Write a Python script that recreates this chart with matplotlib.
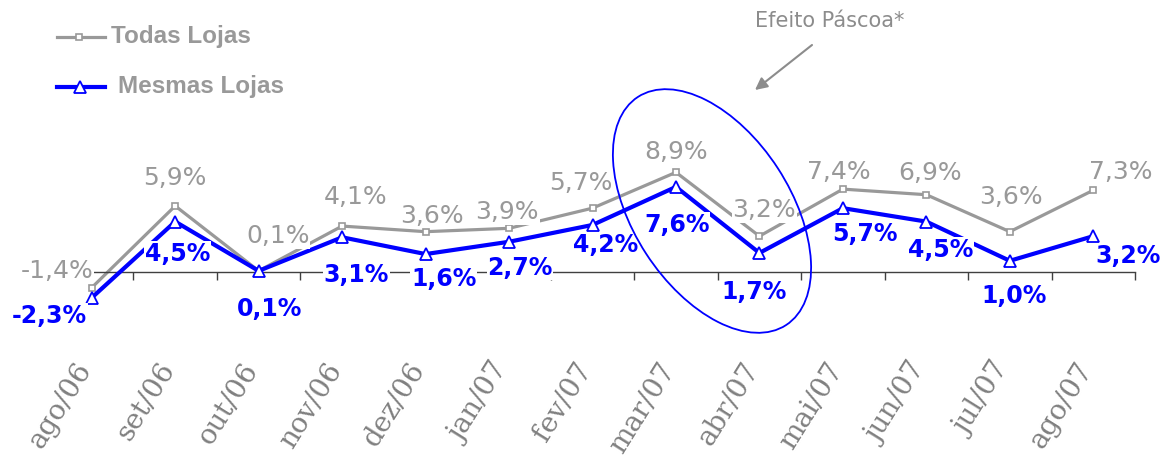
import matplotlib
matplotlib.use('Agg')
import matplotlib.pyplot as plt
import matplotlib.transforms as mtransforms
from matplotlib.patches import Ellipse
from matplotlib.lines import Line2D

# dados
meses = ['ago/06', 'set/06', 'out/06', 'nov/06', 'dez/06', 'jan/07', 'fev/07',
         'mar/07', 'abr/07', 'mai/07', 'jun/07', 'jul/07', 'ago/07']
todas_lojas = [-1.4, 5.9, 0.1, 4.1, 3.6, 3.9, 5.7, 8.9, 3.2, 7.4, 6.9, 3.6, 7.3]
mesmas_lojas = [-2.3, 4.5, 0.1, 3.1, 1.6, 2.7, 4.2, 7.6, 1.7, 5.7, 4.5, 1.0, 3.2]

# posicao dos rotulos (pixels em relacao ao ponto)
off_todas = [(-35, 17), (0, 28), (19, 35), (13, 29), (6, 16), (-2, 16), (-12, 25),
             (0, 20), (5, 26), (-4, 17), (4, 22), (1, 35), (27, 18)]
off_mesmas = [(-42, -18), (2, -32), (11, -38), (14, -38), (18, -25), (11, -26), (13, -20),
              (1, -38), (-5, -39), (22, -26), (14, -28), (4, -35), (35, -20)]

CINZA = '#999999'
AZUL = '#0000ff'
W, H, DPI = 1170, 459, 100

fig = plt.figure(figsize=(W / DPI, H / DPI), dpi=DPI)
ax = fig.add_axes([50 / W, 0, 1085 / W, 1])
ax.set_xlim(-0.5, 12.5)
ax.set_ylim((272 - H) / 11.2, 272 / 11.2)

x = list(range(len(meses)))
ax.plot(x, todas_lojas, color=CINZA, lw=2.3, marker='s', markersize=4.5,
        markerfacecolor='white', markeredgecolor=CINZA, markeredgewidth=1.2, zorder=2)
ax.plot(x, mesmas_lojas, color=AZUL, lw=3.0, marker='^', markersize=9,
        markerfacecolor='white', markeredgecolor=AZUL, markeredgewidth=1.3, zorder=3)

def fmt(v):
    return ('%.1f%%' % v).replace('.', ',')

caixa = dict(facecolor='white', edgecolor='none', pad=0.5)
for i, v in enumerate(todas_lojas):
    ax.annotate(fmt(v), (i, v), xytext=off_todas[i], textcoords='offset pixels',
                ha='center', va='center', fontsize=18, color=CINZA,
                family='DejaVu Sans', bbox=caixa, zorder=4)
for i, v in enumerate(mesmas_lojas):
    ax.annotate(fmt(v), (i, v), xytext=off_mesmas[i], textcoords='offset pixels',
                ha='center', va='center', fontsize=17, color=AZUL, fontweight='bold',
                family='DejaVu Sans', bbox=caixa, zorder=4)

# eixo
for s in ['left', 'right', 'top']:
    ax.spines[s].set_visible(False)
ax.spines['bottom'].set_position(('data', 0))
ax.spines['bottom'].set_color('#404040')
ax.spines['bottom'].set_linewidth(1.0)
ax.set_yticks([])
ax.set_xticks(x)
ax.set_xticks([i - 0.5 for i in range(len(meses) + 1)], minor=True)
ax.tick_params(axis='x', which='major', length=0, pad=67)
ax.tick_params(axis='x', which='minor', length=6, width=1, color='#404040', direction='out')
ax.set_xticklabels(meses, rotation=58, ha='right', va='center', rotation_mode='anchor',
                   fontsize=20, color='#808080', family='DejaVu Serif')
desloc = mtransforms.ScaledTranslation(-6 / DPI, 0, fig.dpi_scale_trans)
for lab in ax.get_xticklabels():
    lab.set_transform(lab.get_transform() + desloc)
ax.set_facecolor('none')

# coordenadas em pixels da imagem (y para baixo)
pix = mtransforms.Affine2D().scale(1, -1).translate(0, H).scale(1 / DPI) + fig.dpi_scale_trans

# legenda
fig.add_artist(Line2D([57, 105], [37, 37], color=CINZA, lw=2.3, transform=pix))
fig.add_artist(Line2D([79], [37], color=CINZA, marker='s', markersize=4.5,
                      markerfacecolor='white', markeredgewidth=1.2, transform=pix))
fig.add_artist(Line2D([57, 105], [87, 87], color=AZUL, lw=3.0, transform=pix))
fig.add_artist(Line2D([80], [87], color=AZUL, marker='^', markersize=9,
                      markerfacecolor='white', markeredgewidth=1.3, transform=pix))
fig.text(111, 37, 'Todas Lojas', transform=pix, ha='left', va='center', fontsize=17.5,
         color=CINZA, fontweight='bold', family='Liberation Sans')
fig.text(118, 87, 'Mesmas Lojas', transform=pix, ha='left', va='center', fontsize=17.5,
         color=CINZA, fontweight='bold', family='Liberation Sans')

# destaque pascoa
fig.text(830, 21, 'Efeito Páscoa*', transform=pix, ha='center', va='center',
         fontsize=15, color='#8c8c8c', family='DejaVu Sans')
fig.add_artist(plt.Annotation('', xy=(755, 90), xytext=(812, 45), xycoords=pix,
                              textcoords=pix,
                              arrowprops=dict(arrowstyle='-|>', color='#8c8c8c', lw=1.5,
                                              mutation_scale=18, shrinkA=0, shrinkB=0)))
fig.add_artist(Ellipse((712, 211), 157, 272, angle=-33, transform=pix,
                       fill=False, edgecolor=AZUL, lw=1.3, zorder=5))

fig.savefig('out.png', dpi=DPI)
